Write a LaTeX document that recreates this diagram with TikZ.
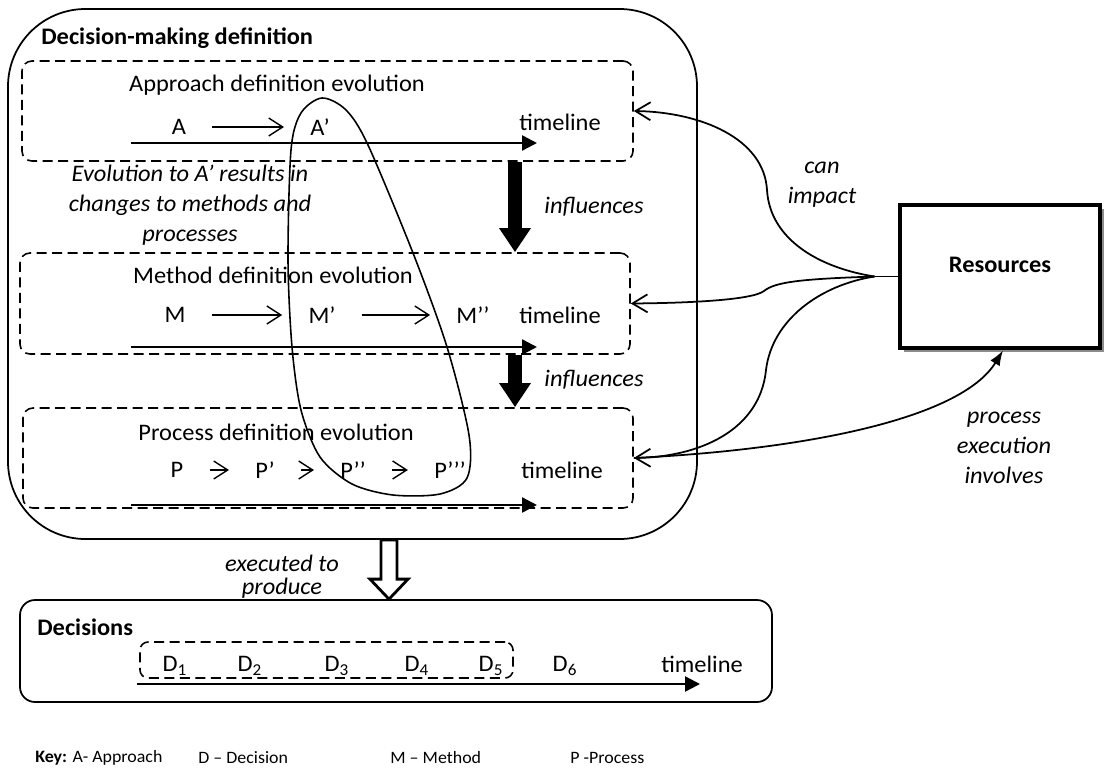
\documentclass[tikz,border=0pt]{standalone}
\usepackage{fontspec}
\setmainfont{Carlito}[FakeStretch=1.03]
\usepackage{tikz}
\usetikzlibrary{arrows.meta,positioning,calc,fit,shadows}
\newcommand{\bfnt}{\fontsize{13.5}{17}\selectfont}

\begin{document}
\begin{tikzpicture}[x=0.02cm,y=-0.02cm,
   frame/.style={draw,line width=1pt,rounded corners=1.55cm,inner sep=0pt},
   lane/.style={draw,line width=0.9pt,dash pattern=on 0.2cm off 0.11cm,rounded corners=0.2cm,inner sep=0pt},
   txt/.style={font=\bfnt,inner sep=1pt},
   hd/.style={font=\bfnt\bfseries,anchor=west,inner sep=0pt},
   itl/.style={font=\bfnt\itshape,align=center,inner sep=0pt},
   elt/.style={font=\bfnt,inner ysep=1pt,inner xsep=0.52cm},
   key/.style={font=\fontsize{9.9}{11}\selectfont,anchor=west,inner sep=0pt},
   flow/.style={line width=0.8pt,-{Straight Barb[length=0.28cm,width=0.36cm]}},
   link/.style={line width=1pt,-{Straight Barb[length=0.3cm,width=0.36cm]}},
   tline/.style={line width=1.4pt,-{Triangle[length=0.3cm,width=0.3cm]}},
   infl/.style={line width=0.28cm,-{Triangle[length=0.48cm,width=0.6cm]}}]
\useasboundingbox (0,0) rectangle (1108,771);

\node[frame,fit={(8,9)(697,539)}] (dmd) {};
\node[hd] (dmdt) at (41,38) {Decision-making definition};
\node[lane,fit={(22,61)(633,161)}] (app) {};
\node[lane,fit={(20,253)(630,354)}] (meth) {};
\node[lane,fit={(23,408)(633,508)}] (proc) {};

\node[txt] (appt) at (277,85) {Approach definition evolution};
\node[txt] (metht) at (273,275) {Method definition evolution};
\node[txt] (proct) at (276,432) {Process definition evolution};

\path (179,127) node[elt] (a0) {A}
      (320,127) node[elt] (a1) {A’};
\draw[flow] (a0) -- (a1);

\path (175,315) node[elt] (m0) {M}
      (322,315) node[elt] (m1) {M’}
      (473,315) node[elt] (m2) {M’’};
\draw[flow] (m0) -- (m1);
\draw[flow] (m1) -- (m2);

\path (177,470) node[elt] (p0) {P}
      (265,470) node[elt] (p1) {P’}
      (353,470) node[elt] (p2) {P’’}
      (450,470) node[elt] (p3) {P’’’};
\foreach \i/\j in {p0/p1,p1/p2,p2/p3}
   \draw[flow] (\i) -- (\j);

\node[txt] (tl1) at (560,122) {timeline};
\node[txt] (tl2) at (560,315) {timeline};
\node[txt] (tl3) at (562,470) {timeline};
\draw[tline] (131,143) -- (537,143);
\draw[tline] (131,347) -- (537,347);
\draw[tline] (131,505) -- (537,505);

\draw[line width=0.9pt] plot[smooth cycle] coordinates {(322,98) (346,110) (368,145) (413,253) (447,347) (469,435) (467,478) (440,494) (393,495) (352,484) (320,457) (301,410) (292,347) (288,260) (291,150) (301,113)};

\node[itl] (note) at (190,205) {Evolution to A’ results in\\changes to methods and\\processes};

\coordinate (col) at (515,0);
\draw[infl] (app.south -| col) -- (meth.north -| col);
\draw[infl] (meth.south -| col) -- (proc.north -| col);
\node[itl] (inf1) at (594,207) {influences};
\node[itl] (inf2) at (594,380) {influences};

\node[draw,line width=2.8pt,fill=white,fit={(900,205)(1100,348)},inner sep=0pt,
      drop shadow={shadow xshift=0.08cm,shadow yshift=-0.08cm,fill=black!45,opacity=1}] (res) {};
\node[hd,anchor=center] (rest) at ([yshift=0.24cm]res.center) {Resources};

\coordinate (hub) at ([xshift=-0.46cm]res.west);
\draw[line width=1pt] (res.west) -- (hub);
\draw[link] (hub) .. controls (820,268) and (770,240) .. (767,190) .. controls (764,138) and (700,112) .. (app.east);
\draw[link] (hub) .. controls (800,279) and (775,282) .. (764,291) .. controls (752,300) and (690,303) .. (meth.east);
\draw[link] (hub) .. controls (820,285) and (772,320) .. (766,370) .. controls (760,430) and (700,457) .. (proc.east);
\draw[line width=1pt,-{Latex[length=0.3cm,width=0.22cm]}] (proc.east) .. controls (800,450) and (960,420) .. ([xshift=0.06cm]res.south);

\node[itl] (canimp) at (822,185) {can\\impact};
\node[itl] (pexec) at (1004,448) {process\\execution\\involves};

\node[draw,line width=1pt,rounded corners=0.3cm,fit={(20,600)(772,702)},inner sep=0pt] (dec) {};
\node[hd] (dect) at (37,627) {Decisions};
\node[lane,rounded corners=0.16cm,fit={(140,642)(513,678)}] (dset) {};
\foreach \n/\x in {1/175,2/250,3/337,4/417,5/491,6/565}
   \node[txt] (d\n) at (\x,666) {D\textsubscript{\n}};
\node[txt] (tl4) at (702,664) {timeline};
\draw[tline] (137,684) -- (700,684);

\coordinate (ecol) at (389,0);
\path (dmd.south -| ecol) coordinate (et)
      (dec.north -| ecol) coordinate (eb);
\draw[line width=1.6pt,fill=white] ($(et)+(-8,0)$) -- ($(eb)+(-8,-20)$) -- ($(eb)+(-19,-20)$) -- (eb)
   -- ($(eb)+(19,-20)$) -- ($(eb)+(8,-20)$) -- ($(et)+(8,0)$) -- cycle;
\node[itl,font=\fontsize{13.5}{13}\selectfont\itshape] (exe) at (282,577) {executed to\\produce};

\node[key] (k1) at (35,758) {\textbf{Key:} A- Approach};
\node[key] (k2) at (198,758) {D – Decision};
\node[key] (k3) at (390,758) {M – Method};
\node[key] (k4) at (570,758) {P -Process};
\end{tikzpicture}
\end{document}
